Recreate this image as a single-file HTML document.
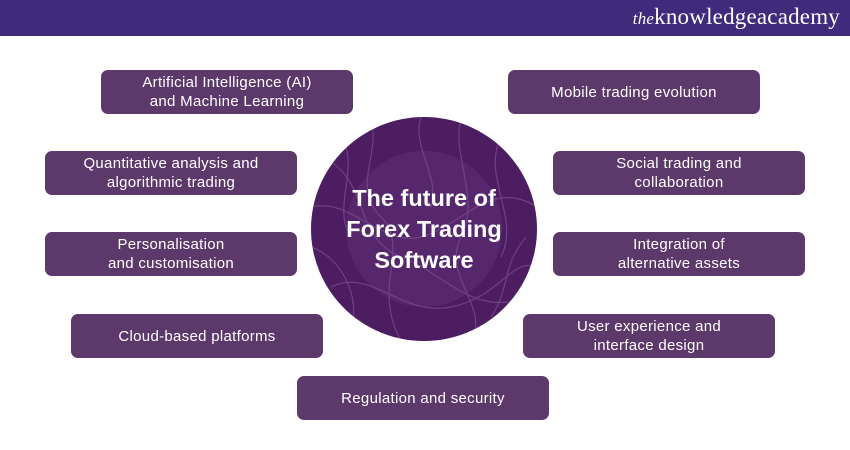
<!DOCTYPE html>
<html><head><meta charset="utf-8"><style>
body{margin:0;width:850px;height:450px;background:#fff;position:relative;overflow:hidden;font-family:"Liberation Sans",sans-serif}
.hdr{position:absolute;left:0;top:0;width:850px;height:36px;background:#3f2a7c}
.logo{position:absolute;right:10px;top:4px;color:#fff;font-family:"Liberation Serif",serif;font-size:23px;letter-spacing:0.2px}
.logo i{font-size:17px}
.b{position:absolute;width:252px;height:44px;background:#5d386b;border-radius:7px;color:#fff;font-size:15px;line-height:19px;display:flex;align-items:center;justify-content:center;text-align:center;letter-spacing:0.3px}
.c{position:absolute;left:311px;top:117px;width:226px;height:224px;border-radius:50%;background:#4d1d62;overflow:hidden}
.t{position:absolute;left:300px;top:117px;width:248px;height:224px;display:flex;align-items:center;justify-content:center;text-align:center;color:#fff;font-weight:bold;font-size:23.5px;line-height:31px}
</style></head><body>
<div class="hdr"><div class="logo"><i>the</i>knowledge<b style="font-weight:normal">academy</b></div></div>
<div class="c"><svg width="226" height="224" viewBox="0 0 226 224">
<circle cx="113" cy="112" r="78" fill="#5a2c70" opacity="0.7"/>
<g fill="none" stroke="#7a4a8e" stroke-width="1.2" opacity="0.8">
<path d="M10 40 C60 60 40 120 90 140 S160 200 220 180"/>
<path d="M0 90 C40 80 70 130 110 120 S180 60 226 90"/>
<path d="M20 170 C60 150 90 200 140 190 S200 140 226 150"/>
<path d="M60 0 C70 40 40 70 70 100 S60 170 90 224"/>
<path d="M150 0 C140 40 170 80 150 120 S180 190 160 224"/>
<path d="M190 20 C170 60 210 100 190 140"/>
<path d="M0 130 C30 140 50 180 40 210"/>
<path d="M30 20 C50 50 20 90 40 120"/>
<path d="M110 0 C100 30 130 60 120 90"/>
<path d="M180 200 C200 170 190 150 215 120"/>
</g></svg></div>
<div class="t">The future of<br>Forex Trading<br>Software</div>
<div class="b" style="left:101px;top:70px">Artificial Intelligence (AI)<br>and Machine Learning</div>
<div class="b" style="left:508px;top:70px">Mobile trading evolution</div>
<div class="b" style="left:45px;top:151px">Quantitative analysis and<br>algorithmic trading</div>
<div class="b" style="left:553px;top:151px">Social trading and<br>collaboration</div>
<div class="b" style="left:45px;top:232px">Personalisation<br>and customisation</div>
<div class="b" style="left:553px;top:232px">Integration of<br>alternative assets</div>
<div class="b" style="left:71px;top:314px">Cloud-based platforms</div>
<div class="b" style="left:523px;top:314px">User experience and<br>interface design</div>
<div class="b" style="left:297px;top:376px">Regulation and security</div>
</body></html>
